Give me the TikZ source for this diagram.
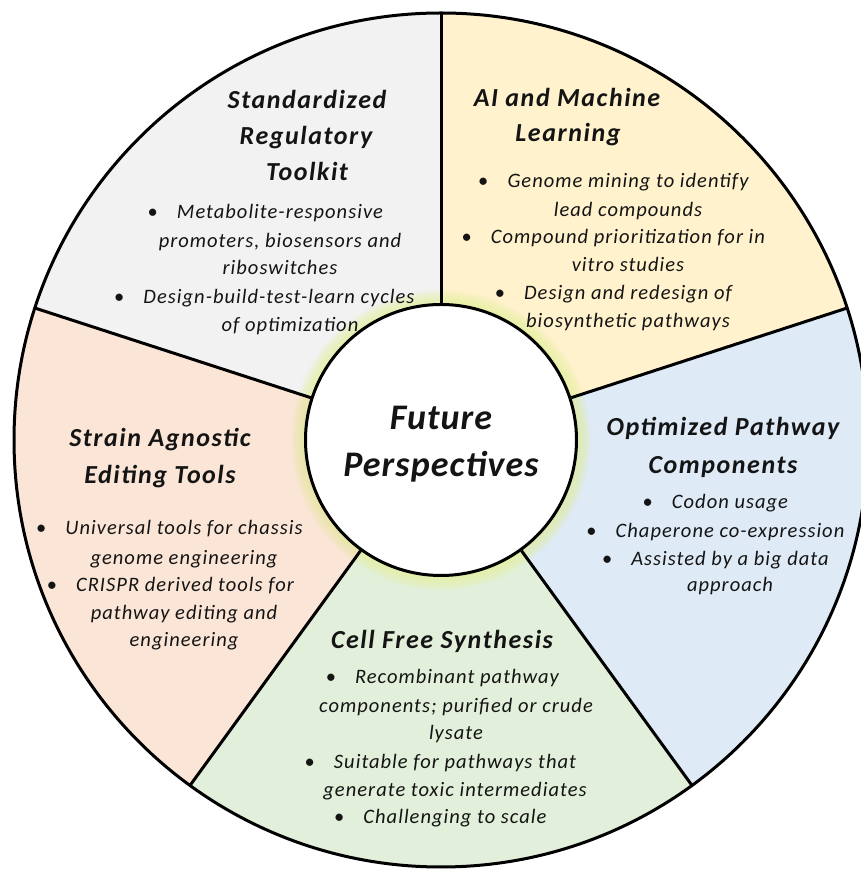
\documentclass[tikz,border=0pt]{standalone}
\usepackage{fontspec}
\setmainfont{Carlito}
\newfontfamily\bodyfont[LetterSpace=5]{Carlito}
\newfontfamily\headfont[LetterSpace=6]{Carlito}
\newfontfamily\hubfont[LetterSpace=3]{Carlito}
\usetikzlibrary{calc}
\definecolor{secgray}{HTML}{F2F2F2}
\definecolor{secyellow}{HTML}{FFF2CC}
\definecolor{secblue}{HTML}{DEEAF6}
\definecolor{secgreen}{HTML}{E2EFDA}
\definecolor{secpeach}{HTML}{FBE5D6}
\definecolor{halo}{HTML}{E6F0A0}
\definecolor{ink}{HTML}{141414}
\begin{document}
\begin{tikzpicture}[x=1pt,y=1pt,
  rim/.style={line width=3pt, draw=black},
  head/.style={font=\headfont\fontsize{26}{30}\selectfont\bfseries\itshape, text=ink, inner sep=0pt, anchor=base},
  item/.style={font=\bodyfont\fontsize{20.5}{24}\selectfont\itshape, text=ink, inner sep=0pt, anchor=base},
  dot/.style={font=\fontsize{20.5}{24}\selectfont, text=ink, inner sep=0pt, anchor=base},
  hubstyle/.style={circle, draw=black, line width=3pt, fill=white, minimum size=271pt, inner sep=0pt},
]
\useasboundingbox (0,0) rectangle (861,870);
\coordinate (O) at (441,430);
\def\R{427}

% five coloured sectors
\fill[secgray]   (O) -- ++(90:\R)  arc[start angle=90,  end angle=162, radius=\R] -- cycle;
\fill[secpeach]  (O) -- ++(162:\R) arc[start angle=162, end angle=234, radius=\R] -- cycle;
\fill[secgreen]  (O) -- ++(234:\R) arc[start angle=234, end angle=306, radius=\R] -- cycle;
\fill[secblue]   (O) -- ++(306:\R) arc[start angle=306, end angle=378, radius=\R] -- cycle;
\fill[secyellow] (O) -- ++(18:\R)  arc[start angle=18,  end angle=90,  radius=\R] -- cycle;

% soft glow around the hub
\foreach \k in {14,...,1} {
  \fill[halo, opacity=0.09] (O) circle (136+\k);
}

% hub
\node[hubstyle] (hub) at (O) {};
\node[font=\hubfont\fontsize{36}{47}\selectfont\bfseries\itshape, text=ink, align=center, inner sep=0pt] (hubtext) at (441,426) {Future\\Perspectives};

% spokes
\foreach \a in {90,162,234,306,18} {
  \coordinate (rim\a) at ($(O)+(\a:\R)$);
}
\foreach \a in {90,162,234,306,18} {
  \draw[rim] (hub.\a) -- (rim\a);
}
\draw[rim] (O) circle (\R);

% Standardized Regulatory Toolkit
\node[head] (tlh1) at (307,761) {Standardized};
\node[head] (tlh2) at (306,725) {Regulatory};
\node[head] (tlh3) at (307,689) {Toolkit};
\node[item] (tl1) at (280,651) {Metabolite-responsive};
\node[item] (tl2) at (280,622) {promoters, biosensors and};
\node[item] (tl3) at (280,595) {riboswitches};
\node[item] (tl4) at (279,566) {Design-build-test-learn cycles};
\node[item] (tl5) at (290,538) {of optimization};
\node[dot] (tl1b) at ([xshift=-24pt]tl1.base west) {\textbullet};
\node[dot] (tl4b) at ([xshift=-24pt]tl4.base west) {\textbullet};

% AI and Machine Learning
\node[head] (trh1) at (567,763) {AI and Machine};
\node[head] (trh2) at (568,728) {Learning};
\node[item] (tr1) at (628,682) {Genome mining to identify};
\node[item] (tr2) at (628,653) {lead compounds};
\node[item] (tr3) at (628,626) {Compound prioritization for in};
\node[item] (tr4) at (628,598) {vitro studies};
\node[item] (tr5) at (628,570) {Design and redesign of};
\node[item] (tr6) at (628,542) {biosynthetic pathways};
\node[dot] (tr1b) at ([xshift=-24pt]tr1.base west) {\textbullet};
\node[dot] (tr3b) at ([xshift=-24pt]tr3.base west) {\textbullet};
\node[dot] (tr5b) at ([xshift=-24pt]tr5.base west) {\textbullet};

% Optimized Pathway Components
\node[head] (rh1) at (723,434) {Optimized Pathway};
\node[head] (rh2) at (723,396) {Components};
\node[item] (r1) at (730,361) {Codon usage};
\node[item] (r2) at (730,332) {Chaperone co-expression};
\node[item] (r3) at (730,304) {Assisted by a big data};
\node[item] (r4) at (730,278) {approach};
\node[dot] (r1b) at ([xshift=-24pt]r1.base west) {\textbullet};
\node[dot] (r2b) at ([xshift=-24pt]r2.base west) {\textbullet};
\node[dot] (r3b) at ([xshift=-24pt]r3.base west) {\textbullet};

% Strain Agnostic Editing Tools
\node[head] (lh1) at (160,423) {Strain Agnostic};
\node[head] (lh2) at (160,386) {Editing Tools};
\node[item] (l1) at (184,335) {Universal tools for chassis};
\node[item] (l2) at (184,305) {genome engineering};
\node[item] (l3) at (185,278) {CRISPR derived tools for};
\node[item] (l4) at (184,250) {pathway editing and};
\node[item] (l5) at (184,223) {engineering};
\node[dot] (l1b) at ([xshift=-24pt]l1.base west) {\textbullet};
\node[dot] (l3b) at ([xshift=-24pt]l3.base west) {\textbullet};

% Cell Free Synthesis
\node[head] (bh1) at (442,221) {Cell Free Synthesis};
\node[item] (b1) at (457,186) {Recombinant pathway};
\node[item] (b2) at (456,157) {components; purified or crude};
\node[item] (b3) at (456,130) {lysate};
\node[item] (b4) at (455,101) {Suitable for pathways that};
\node[item] (b5) at (455,73) {generate toxic intermediates};
\node[item] (b6) at (455,46) {Challenging to scale};
\node[dot] (b1b) at ([xshift=-24pt]b1.base west) {\textbullet};
\node[dot] (b4b) at ([xshift=-24pt]b4.base west) {\textbullet};
\node[dot] (b6b) at ([xshift=-24pt]b6.base west) {\textbullet};
\end{tikzpicture}
\end{document}
